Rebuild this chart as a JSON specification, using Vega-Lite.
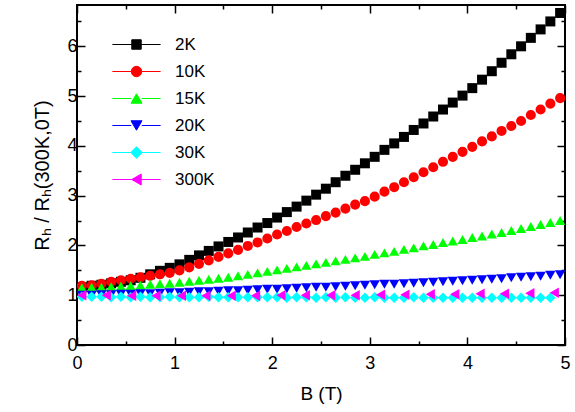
{
  "$schema": "https://vega.github.io/schema/vega-lite/v6.json",
  "width": 488,
  "height": 340,
  "autosize": {"type": "none"},
  "padding": {"left": 77, "top": 5, "right": 10, "bottom": 67},
  "background": "white",
  "config": {
    "view": {"stroke": "black", "strokeWidth": 2},
    "font": "Liberation Sans"
  },
  "data": {"values": [
    {"B":0.05,"T":"2K","R":1.16},{"B":0.15,"T":"2K","R":1.19},{"B":0.25,"T":"2K","R":1.21},{"B":0.35,"T":"2K","R":1.24},{"B":0.45,"T":"2K","R":1.27},
    {"B":0.55,"T":"2K","R":1.30},{"B":0.65,"T":"2K","R":1.35},{"B":0.75,"T":"2K","R":1.42},{"B":0.85,"T":"2K","R":1.49},{"B":0.95,"T":"2K","R":1.55},
    {"B":1.05,"T":"2K","R":1.62},{"B":1.15,"T":"2K","R":1.71},{"B":1.25,"T":"2K","R":1.80},{"B":1.35,"T":"2K","R":1.89},{"B":1.45,"T":"2K","R":1.98},
    {"B":1.55,"T":"2K","R":2.07},{"B":1.65,"T":"2K","R":2.16},{"B":1.75,"T":"2K","R":2.26},{"B":1.85,"T":"2K","R":2.36},{"B":1.95,"T":"2K","R":2.45},
    {"B":2.05,"T":"2K","R":2.56},{"B":2.15,"T":"2K","R":2.67},{"B":2.25,"T":"2K","R":2.78},{"B":2.35,"T":"2K","R":2.90},{"B":2.45,"T":"2K","R":3.02},
    {"B":2.55,"T":"2K","R":3.14},{"B":2.65,"T":"2K","R":3.27},{"B":2.75,"T":"2K","R":3.40},{"B":2.85,"T":"2K","R":3.52},{"B":2.95,"T":"2K","R":3.65},
    {"B":3.05,"T":"2K","R":3.78},{"B":3.15,"T":"2K","R":3.92},{"B":3.25,"T":"2K","R":4.05},{"B":3.35,"T":"2K","R":4.18},{"B":3.45,"T":"2K","R":4.32},
    {"B":3.55,"T":"2K","R":4.45},{"B":3.65,"T":"2K","R":4.59},{"B":3.75,"T":"2K","R":4.73},{"B":3.85,"T":"2K","R":4.87},{"B":3.95,"T":"2K","R":5.01},
    {"B":4.05,"T":"2K","R":5.16},{"B":4.15,"T":"2K","R":5.33},{"B":4.25,"T":"2K","R":5.50},{"B":4.35,"T":"2K","R":5.67},{"B":4.45,"T":"2K","R":5.84},
    {"B":4.55,"T":"2K","R":6.00},{"B":4.65,"T":"2K","R":6.17},{"B":4.75,"T":"2K","R":6.34},{"B":4.85,"T":"2K","R":6.50},{"B":4.95,"T":"2K","R":6.67},

    {"B":0.05,"T":"10K","R":1.19},{"B":0.15,"T":"10K","R":1.20},{"B":0.25,"T":"10K","R":1.23},{"B":0.35,"T":"10K","R":1.27},{"B":0.45,"T":"10K","R":1.30},
    {"B":0.55,"T":"10K","R":1.33},{"B":0.65,"T":"10K","R":1.36},{"B":0.75,"T":"10K","R":1.39},{"B":0.85,"T":"10K","R":1.42},{"B":0.95,"T":"10K","R":1.45},
    {"B":1.05,"T":"10K","R":1.50},{"B":1.15,"T":"10K","R":1.56},{"B":1.25,"T":"10K","R":1.63},{"B":1.35,"T":"10K","R":1.70},{"B":1.45,"T":"10K","R":1.77},
    {"B":1.55,"T":"10K","R":1.84},{"B":1.65,"T":"10K","R":1.91},{"B":1.75,"T":"10K","R":1.99},{"B":1.85,"T":"10K","R":2.06},{"B":1.95,"T":"10K","R":2.14},
    {"B":2.05,"T":"10K","R":2.22},{"B":2.15,"T":"10K","R":2.29},{"B":2.25,"T":"10K","R":2.37},{"B":2.35,"T":"10K","R":2.44},{"B":2.45,"T":"10K","R":2.51},
    {"B":2.55,"T":"10K","R":2.59},{"B":2.65,"T":"10K","R":2.66},{"B":2.75,"T":"10K","R":2.74},{"B":2.85,"T":"10K","R":2.82},{"B":2.95,"T":"10K","R":2.89},
    {"B":3.05,"T":"10K","R":2.98},{"B":3.15,"T":"10K","R":3.08},{"B":3.25,"T":"10K","R":3.17},{"B":3.35,"T":"10K","R":3.27},{"B":3.45,"T":"10K","R":3.37},
    {"B":3.55,"T":"10K","R":3.47},{"B":3.65,"T":"10K","R":3.57},{"B":3.75,"T":"10K","R":3.68},{"B":3.85,"T":"10K","R":3.78},{"B":3.95,"T":"10K","R":3.88},
    {"B":4.05,"T":"10K","R":3.98},{"B":4.15,"T":"10K","R":4.09},{"B":4.25,"T":"10K","R":4.19},{"B":4.35,"T":"10K","R":4.30},{"B":4.45,"T":"10K","R":4.40},
    {"B":4.55,"T":"10K","R":4.50},{"B":4.65,"T":"10K","R":4.62},{"B":4.75,"T":"10K","R":4.73},{"B":4.85,"T":"10K","R":4.85},{"B":4.95,"T":"10K","R":4.96},

    {"B":0.05,"T":"15K","R":1.15},{"B":0.15,"T":"15K","R":1.16},{"B":0.25,"T":"15K","R":1.16},{"B":0.35,"T":"15K","R":1.17},{"B":0.45,"T":"15K","R":1.18},
    {"B":0.55,"T":"15K","R":1.19},{"B":0.65,"T":"15K","R":1.20},{"B":0.75,"T":"15K","R":1.22},{"B":0.85,"T":"15K","R":1.23},{"B":0.95,"T":"15K","R":1.24},
    {"B":1.05,"T":"15K","R":1.26},{"B":1.15,"T":"15K","R":1.28},{"B":1.25,"T":"15K","R":1.30},{"B":1.35,"T":"15K","R":1.32},{"B":1.45,"T":"15K","R":1.34},
    {"B":1.55,"T":"15K","R":1.36},{"B":1.65,"T":"15K","R":1.39},{"B":1.75,"T":"15K","R":1.42},{"B":1.85,"T":"15K","R":1.45},{"B":1.95,"T":"15K","R":1.48},
    {"B":2.05,"T":"15K","R":1.51},{"B":2.15,"T":"15K","R":1.54},{"B":2.25,"T":"15K","R":1.57},{"B":2.35,"T":"15K","R":1.60},{"B":2.45,"T":"15K","R":1.63},
    {"B":2.55,"T":"15K","R":1.66},{"B":2.65,"T":"15K","R":1.69},{"B":2.75,"T":"15K","R":1.72},{"B":2.85,"T":"15K","R":1.75},{"B":2.95,"T":"15K","R":1.78},
    {"B":3.05,"T":"15K","R":1.82},{"B":3.15,"T":"15K","R":1.85},{"B":3.25,"T":"15K","R":1.88},{"B":3.35,"T":"15K","R":1.92},{"B":3.45,"T":"15K","R":1.95},
    {"B":3.55,"T":"15K","R":1.99},{"B":3.65,"T":"15K","R":2.02},{"B":3.75,"T":"15K","R":2.06},{"B":3.85,"T":"15K","R":2.09},{"B":3.95,"T":"15K","R":2.12},
    {"B":4.05,"T":"15K","R":2.16},{"B":4.15,"T":"15K","R":2.19},{"B":4.25,"T":"15K","R":2.23},{"B":4.35,"T":"15K","R":2.26},{"B":4.45,"T":"15K","R":2.30},
    {"B":4.55,"T":"15K","R":2.34},{"B":4.65,"T":"15K","R":2.38},{"B":4.75,"T":"15K","R":2.42},{"B":4.85,"T":"15K","R":2.46},{"B":4.95,"T":"15K","R":2.50},

    {"B":0.05,"T":"20K","R":1.00},{"B":0.15,"T":"20K","R":1.00},{"B":0.25,"T":"20K","R":1.01},{"B":0.35,"T":"20K","R":1.01},{"B":0.45,"T":"20K","R":1.02},
    {"B":0.55,"T":"20K","R":1.02},{"B":0.65,"T":"20K","R":1.03},{"B":0.75,"T":"20K","R":1.03},{"B":0.85,"T":"20K","R":1.04},{"B":0.95,"T":"20K","R":1.05},
    {"B":1.05,"T":"20K","R":1.05},{"B":1.15,"T":"20K","R":1.06},{"B":1.25,"T":"20K","R":1.07},{"B":1.35,"T":"20K","R":1.07},{"B":1.45,"T":"20K","R":1.08},
    {"B":1.55,"T":"20K","R":1.09},{"B":1.65,"T":"20K","R":1.09},{"B":1.75,"T":"20K","R":1.10},{"B":1.85,"T":"20K","R":1.11},{"B":1.95,"T":"20K","R":1.12},
    {"B":2.05,"T":"20K","R":1.12},{"B":2.15,"T":"20K","R":1.13},{"B":2.25,"T":"20K","R":1.14},{"B":2.35,"T":"20K","R":1.15},{"B":2.45,"T":"20K","R":1.16},
    {"B":2.55,"T":"20K","R":1.16},{"B":2.65,"T":"20K","R":1.17},{"B":2.75,"T":"20K","R":1.18},{"B":2.85,"T":"20K","R":1.19},{"B":2.95,"T":"20K","R":1.20},
    {"B":3.05,"T":"20K","R":1.21},{"B":3.15,"T":"20K","R":1.22},{"B":3.25,"T":"20K","R":1.22},{"B":3.35,"T":"20K","R":1.23},{"B":3.45,"T":"20K","R":1.24},
    {"B":3.55,"T":"20K","R":1.25},{"B":3.65,"T":"20K","R":1.26},{"B":3.75,"T":"20K","R":1.27},{"B":3.85,"T":"20K","R":1.28},{"B":3.95,"T":"20K","R":1.29},
    {"B":4.05,"T":"20K","R":1.30},{"B":4.15,"T":"20K","R":1.31},{"B":4.25,"T":"20K","R":1.32},{"B":4.35,"T":"20K","R":1.33},{"B":4.45,"T":"20K","R":1.35},
    {"B":4.55,"T":"20K","R":1.36},{"B":4.65,"T":"20K","R":1.37},{"B":4.75,"T":"20K","R":1.38},{"B":4.85,"T":"20K","R":1.40},{"B":4.95,"T":"20K","R":1.41},

    {"B":0.05,"T":"30K","R":0.97},{"B":0.15,"T":"30K","R":0.97},{"B":0.25,"T":"30K","R":0.97},{"B":0.35,"T":"30K","R":0.96},{"B":0.45,"T":"30K","R":0.97},
    {"B":0.55,"T":"30K","R":0.96},{"B":0.65,"T":"30K","R":0.97},{"B":0.75,"T":"30K","R":0.96},{"B":0.85,"T":"30K","R":0.96},{"B":0.95,"T":"30K","R":0.97},
    {"B":1.05,"T":"30K","R":0.96},{"B":1.15,"T":"30K","R":0.96},{"B":1.25,"T":"30K","R":0.96},{"B":1.35,"T":"30K","R":0.97},{"B":1.45,"T":"30K","R":0.96},
    {"B":1.55,"T":"30K","R":0.96},{"B":1.65,"T":"30K","R":0.96},{"B":1.75,"T":"30K","R":0.96},{"B":1.85,"T":"30K","R":0.96},{"B":1.95,"T":"30K","R":0.96},
    {"B":2.05,"T":"30K","R":0.96},{"B":2.15,"T":"30K","R":0.95},{"B":2.25,"T":"30K","R":0.96},{"B":2.35,"T":"30K","R":0.96},{"B":2.45,"T":"30K","R":0.95},
    {"B":2.55,"T":"30K","R":0.96},{"B":2.65,"T":"30K","R":0.95},{"B":2.75,"T":"30K","R":0.96},{"B":2.85,"T":"30K","R":0.95},{"B":2.95,"T":"30K","R":0.95},
    {"B":3.05,"T":"30K","R":0.96},{"B":3.15,"T":"30K","R":0.95},{"B":3.25,"T":"30K","R":0.95},{"B":3.35,"T":"30K","R":0.95},{"B":3.45,"T":"30K","R":0.96},
    {"B":3.55,"T":"30K","R":0.95},{"B":3.65,"T":"30K","R":0.95},{"B":3.75,"T":"30K","R":0.95},{"B":3.85,"T":"30K","R":0.95},{"B":3.95,"T":"30K","R":0.95},
    {"B":4.05,"T":"30K","R":0.95},{"B":4.15,"T":"30K","R":0.95},{"B":4.25,"T":"30K","R":0.95},{"B":4.35,"T":"30K","R":0.95},{"B":4.45,"T":"30K","R":0.95},
    {"B":4.55,"T":"30K","R":0.95},{"B":4.65,"T":"30K","R":0.95},{"B":4.75,"T":"30K","R":0.95},{"B":4.85,"T":"30K","R":0.95},

    {"B":0.05,"T":"300K","R":1.00},{"B":0.30,"T":"300K","R":1.00},{"B":0.56,"T":"300K","R":0.99},{"B":0.81,"T":"300K","R":0.99},{"B":1.07,"T":"300K","R":0.99},
    {"B":1.32,"T":"300K","R":0.99},{"B":1.58,"T":"300K","R":0.99},{"B":1.83,"T":"300K","R":0.99},{"B":2.09,"T":"300K","R":1.00},{"B":2.34,"T":"300K","R":1.00},
    {"B":2.60,"T":"300K","R":1.00},{"B":2.85,"T":"300K","R":1.00},{"B":3.11,"T":"300K","R":1.01},{"B":3.36,"T":"300K","R":1.01},{"B":3.62,"T":"300K","R":1.02},
    {"B":3.87,"T":"300K","R":1.02},{"B":4.13,"T":"300K","R":1.03},{"B":4.38,"T":"300K","R":1.03},{"B":4.64,"T":"300K","R":1.04},{"B":4.89,"T":"300K","R":1.05}
  ]},
  "resolve": {"axis": {"x": "independent", "y": "independent"}, "scale": {"shape": "independent", "color": "independent", "stroke": "independent", "size": "independent"}},
  "layer": [
    {
      "mark": {"type": "point", "filled": true, "opacity": 1, "clip": true},
      "encoding": {
        "x": {"field": "B", "type": "quantitative",
          "scale": {"domain": [0, 5], "nice": false, "zero": false},
          "axis": {"orient": "bottom", "title": "B (T)", "values": [0,0.5,1,1.5,2,2.5,3,3.5,4,4.5,5],
            "labelExpr": "datum.value % 1 === 0 ? format(datum.value, 'd') : ''",
            "domain": false, "grid": false, "labelFlush": false, "labelOverlap": false,
            "tickColor": "black", "tickWidth": 1.5,
            "tickSize": {"condition": {"test": "datum.value % 1 === 0", "value": -8}, "value": -4},
            "labelFontSize": 18, "labelColor": "black", "labelPadding": 17,
            "titleFontSize": 19, "titleFontWeight": "normal", "titleColor": "black", "titlePadding": 8}},
        "y": {"field": "R", "type": "quantitative",
          "scale": {"domain": [0, 6.83], "nice": false, "zero": false},
          "axis": {"orient": "left", "title": "Rₕ / Rₕ(300K,0T)", "values": [0,0.5,1,1.5,2,2.5,3,3.5,4,4.5,5,5.5,6,6.5],
            "labelExpr": "datum.value % 1 === 0 ? format(datum.value, 'd') : ''",
            "domain": false, "grid": false, "labelFlush": false, "labelOverlap": false,
            "tickColor": "black", "tickWidth": 1.5,
            "tickSize": {"condition": {"test": "datum.value % 1 === 0", "value": -8}, "value": -4},
            "labelFontSize": 18, "labelColor": "black", "labelPadding": 8,
            "titleFontSize": 20, "titleFontWeight": "normal", "titleColor": "black", "titlePadding": 14}},
        "color": {"field": "T", "type": "nominal",
          "scale": {"domain": ["2K","10K","15K","20K","30K","300K"], "range": ["#000000","#ff0000","#00ff00","#0000ff","#00ffff","#ff00ff"]},
          "legend": null},
        "shape": {"field": "T", "type": "nominal",
          "scale": {"domain": ["2K","10K","15K","20K","30K","300K"], "range": ["square","circle","triangle-up","triangle-down","diamond","triangle-left"]},
          "legend": null},
        "size": {"field": "T", "type": "nominal",
          "scale": {"domain": ["2K","10K","15K","20K","30K","300K"], "range": [100, 112, 150, 150, 125, 170]},
          "legend": null}
      }
    },
    {
      "transform": [{"filter": "datum.B < 0"}],
      "mark": {"type": "point", "filled": true, "opacity": 1, "size": 110, "strokeWidth": 1},
      "encoding": {
        "color": {"field": "T", "type": "nominal",
          "scale": {"domain": ["2K","10K","15K","20K","30K","300K"], "range": ["#000000","#ff0000","#00ff00","#0000ff","#00ffff","#ff00ff"]},
          "legend": {"title": null, "orient": "none", "legendX": 51, "legendY": 31,
            "labelFontSize": 17, "labelColor": "black", "labelOffset": 30, "rowPadding": 9,
            "symbolSize": 110, "symbolStrokeWidth": 1}},
        "stroke": {"field": "T", "type": "nominal",
          "scale": {"domain": ["2K","10K","15K","20K","30K","300K"], "range": ["#000000","#ff0000","#00ff00","#0000ff","#00ffff","#ff00ff"]},
          "legend": {"title": null, "orient": "none", "legendX": 51, "legendY": 31,
            "labelFontSize": 17, "labelColor": "black", "labelOffset": 30, "rowPadding": 9,
            "symbolSize": 110, "symbolStrokeWidth": 1}},
        "shape": {"field": "T", "type": "nominal",
          "scale": {"domain": ["2K","10K","15K","20K","30K","300K"], "range": [
            "M-4.6,0H-0.9M0.9,0H4.6M-0.9,-0.9H0.9V0.9H-0.9Z",
            "M-4.6,0H-1M1,0H4.6M-1,0A1,1,0,1,1,1,0A1,1,0,1,1,-1,0Z",
            "M-4.6,0H-1M1,0H4.6M0,-0.9L-1.05,0.9L1.05,0.9Z",
            "M-4.6,0H-1M1,0H4.6M0,0.9L-1.05,-0.9L1.05,-0.9Z",
            "M-4.6,0H-1.1M1.1,0H4.6M-1.1,0L0,-1.1L1.1,0L0,1.1Z",
            "M-4.6,0H-0.9M0.9,0H4.6M-0.9,0L0.9,-1.05L0.9,1.05Z"]},
          "legend": {"title": null, "orient": "none", "legendX": 51, "legendY": 31,
            "labelFontSize": 17, "labelColor": "black", "labelOffset": 30, "rowPadding": 9,
            "symbolSize": 110, "symbolStrokeWidth": 1}}
      }
    },
    {
      "mark": {"type": "point", "opacity": 0},
      "encoding": {
        "x": {"field": "B", "type": "quantitative",
          "axis": {"orient": "top", "title": null, "values": [0,0.5,1,1.5,2,2.5,3,3.5,4,4.5,5],
            "labels": false, "domain": false, "grid": false,
            "tickColor": "black", "tickWidth": 1.5,
            "tickSize": {"condition": {"test": "datum.value % 1 === 0", "value": -8}, "value": -4}}},
        "y": {"field": "R", "type": "quantitative",
          "axis": {"orient": "right", "title": null, "values": [0,0.5,1,1.5,2,2.5,3,3.5,4,4.5,5,5.5,6,6.5],
            "labels": false, "domain": false, "grid": false,
            "tickColor": "black", "tickWidth": 1.5,
            "tickSize": {"condition": {"test": "datum.value % 1 === 0", "value": -8}, "value": -4}}}
      }
    }
  ]
}
